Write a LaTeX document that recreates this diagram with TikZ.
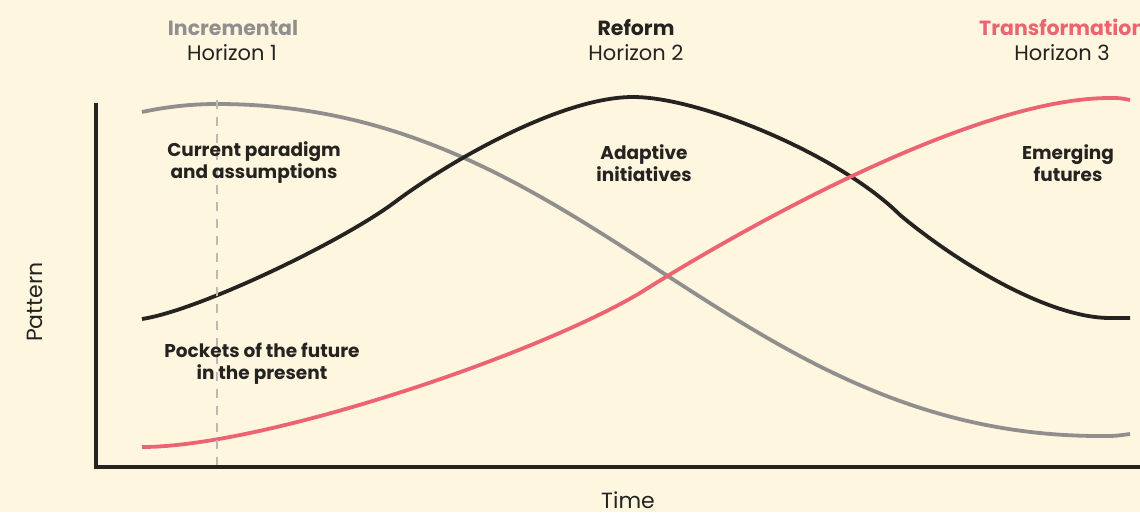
\documentclass[tikz,border=0pt]{standalone}
\usepackage{fontspec}
\setmainfont{Poppins}
\definecolor{paper}{HTML}{FFF6E0}
\definecolor{ink}{HTML}{252320}
\definecolor{horizonone}{HTML}{918F8D}
\definecolor{horizonthree}{HTML}{EC6472}
\definecolor{dashgray}{HTML}{BDB9B1}
\tikzset{
    title/.style={font=\fontsize{20.5}{22}\selectfont\bfseries, anchor=base},
    horizon/.style={font=\fontsize{21}{24}\selectfont, text=ink, anchor=base},
    axislabel/.style={font=\fontsize{22}{24}\selectfont, text=ink},
    phase/.style={font=\fontsize{18.5}{22}\selectfont\bfseries, text=ink, align=center},
    curve/.style={line width=3.8pt, line cap=butt}
}
\begin{document}
\begin{tikzpicture}[x=1pt, y=-1pt]
    \fill[paper] (0,0) rectangle (1140,512);
    \useasboundingbox (0,0) rectangle (1140,512);
    % horizon 1
    \draw[curve, horizonone] (142,112) .. controls (170,106) and (195,104) .. (217,104)
        .. controls (588,104) and (729,436) .. (1100,436)
        .. controls (1115,436) .. (1130,434);
    % horizon 2
    \draw[curve, ink] (142,319) .. controls (200,310) and (343,241) .. (395,202)
        .. controls (447,163) and (560,97) .. (633,97)
        .. controls (700,97) and (840,155) .. (900,215)
        .. controls (960,265) and (1050,318) .. (1110,318) -- (1130,318);
    % horizon 3
    \draw[curve, horizonthree] (142,447) .. controls (260,447) and (530,358) .. (640,293)
        .. controls (700,255) and (960,98) .. (1110,98)
        .. controls (1120,98) .. (1130,100);
    % present marker
    \draw[dashgray, line width=1.8pt, dash pattern={on 9pt off 8pt}] (217,100) -- (217,466);
    % axes
    \draw[ink, line width=4.5pt] (96,103) -- (96,467) -- (1140,467);
    \node[title, text=horizonone] (incremental) at (233,35) {Incremental};
    \node[horizon] (horizon1) at (232,60) {Horizon 1};
    \node[title, text=ink] (reform) at (636,35) {Reform};
    \node[horizon] (horizon2) at (636,60) {Horizon 2};
    \node[title, text=horizonthree, anchor=base west, inner sep=0pt] (transformation) at (979,35) {Transformation};
    \node[horizon] (horizon3) at (1062,60) {Horizon 3};
    \node[phase] (current) at (254,163) {Current paradigm\\and assumptions};
    \node[phase] (adaptive) at (644,163) {Adaptive\\initiatives};
    \node[phase] (emerging) at (1068,163) {Emerging\\futures};
    \node[phase] (pockets) at (262,364) {Pockets of the future\\in the present};
    \node[axislabel, rotate=90] (pattern) at (35,302) {Pattern};
    \node[axislabel, anchor=base] (time) at (628,508) {Time};
\end{tikzpicture}
\end{document}
